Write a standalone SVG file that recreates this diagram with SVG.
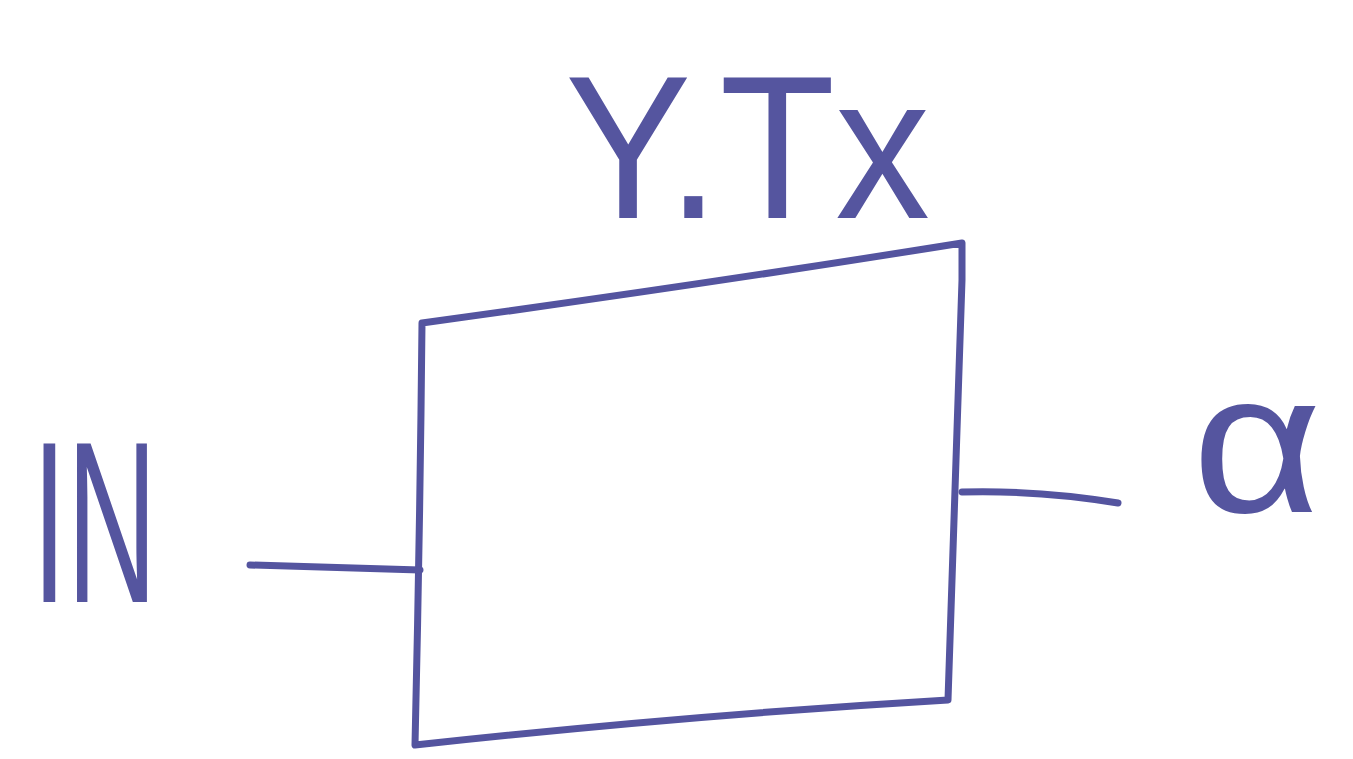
<svg xmlns="http://www.w3.org/2000/svg" width="1353" height="759" viewBox="0 0 1353 759">
<style>
.ink{fill:none;stroke:#54549f;stroke-width:7;stroke-linecap:round;stroke-linejoin:round}
.lbl{font-family:"Liberation Sans",Arial,sans-serif;fill:#55559f;font-weight:normal}
</style>
<rect width="1353" height="759" fill="#ffffff"/>
<g id="block">
<path class="ink" d="M422,323 Q700,285 962,243 L962,280 Q955,500 948,700 Q690,715 415,745 Q420,530 422,323 Z"/>
</g>
<g id="connectors">
<path class="ink" d="M250,565 L420,570"/>
<path class="ink" d="M962,492 Q1040,490 1118,503"/>
</g>
<g id="label-in">
<text class="lbl" x="32" y="602" font-size="230" textLength="125" lengthAdjust="spacingAndGlyphs">IN</text>
</g>
<g id="label-top">
<text class="lbl" x="565" y="218" font-size="205" textLength="365" lengthAdjust="spacingAndGlyphs">Y.Tx</text>
</g>
<g id="label-out">
<text class="lbl" x="1192" y="512" font-size="200" textLength="130" lengthAdjust="spacingAndGlyphs">α</text>
</g>
</svg>
